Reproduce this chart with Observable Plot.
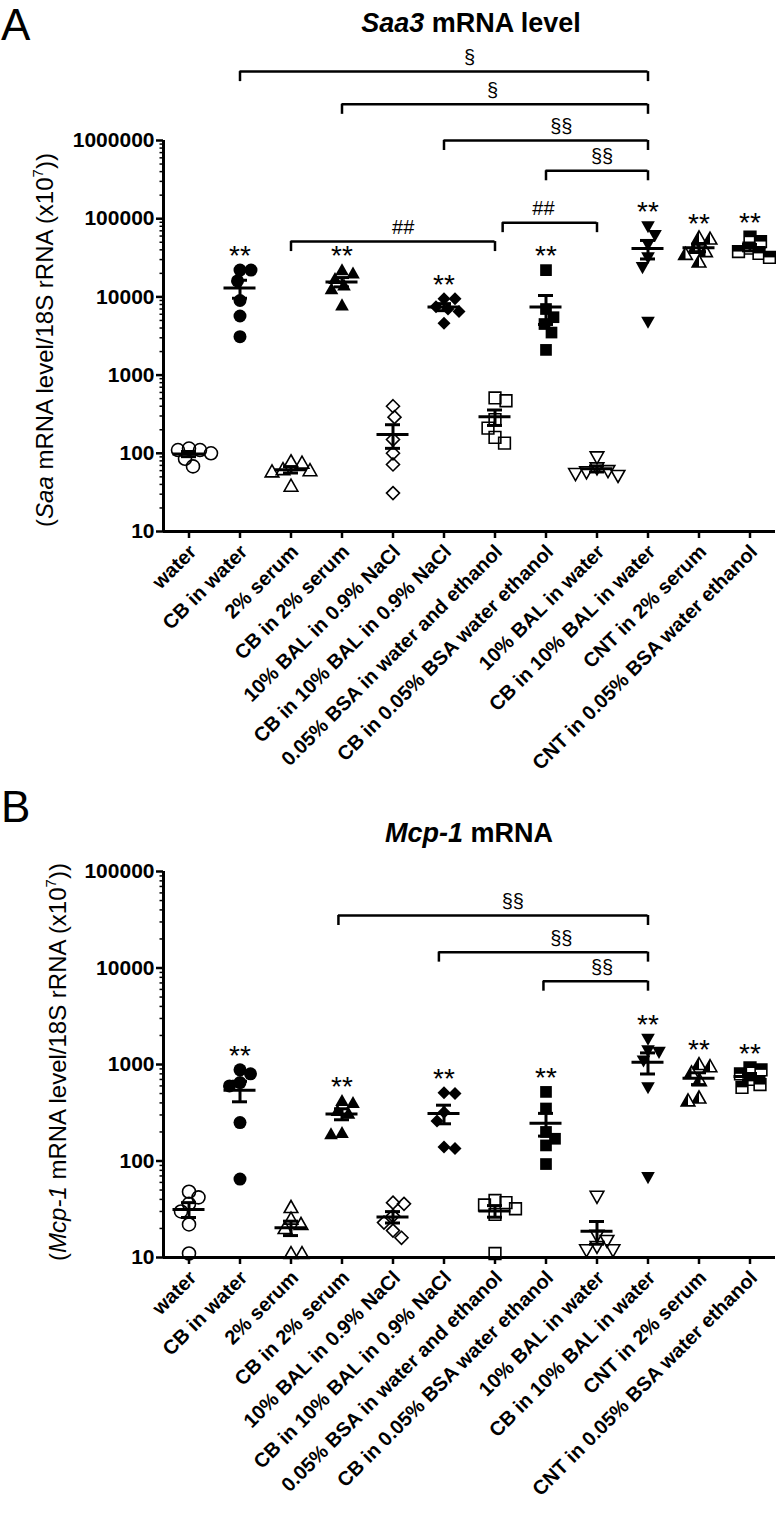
<!DOCTYPE html>
<html><head><meta charset="utf-8">
<script src="https://cdn.jsdelivr.net/npm/d3@7"></script>
<script src="https://cdn.jsdelivr.net/npm/@observablehq/plot@0.6"></script>
<style>
body{margin:0;background:#fff;}
#wrap{position:relative;width:776px;height:1514px;overflow:hidden;background:#fff;}
#wrap svg{position:absolute;left:0;overflow:visible;}
</style></head>
<body><div id="wrap"></div>
<script>
// ---------- data ----------
const categories = ["water","CB in water","2% serum","CB in 2% serum","10% BAL in 0.9% NaCl","CB in 10% BAL in 0.9% NaCl","0.05% BSA in water and ethanol","CB in 0.05% BSA water ethanol","10% BAL in water","CB in 10% BAL in water","CNT in 2% serum","CNT in 0.05% BSA water ethanol"];

const saa3 = [
  [110,115,110,100,85,68],
  [22000,22000,16000,9000,5700,3100],
  [75,78,62,58,60,38],
  [22000,20000,17000,14000,12500,7800],
  [400,290,150,100,72,31],
  [9500,9500,7500,7000,6500,4600],
  [510,470,270,210,160,135],
  [22000,7000,5500,4500,3500,2100],
  [90,65,60,58,55,52],
  [80000,62000,47000,32000,24000,4800],
  [57000,55000,42000,38000,35000,28000],
  [58000,51000,42000,38000,36000,32000]
];
const mcp1 = [
  [48,42,36,30,22,11],
  [880,800,650,600,250,65],
  [33,25,22,20,11,11],
  [420,400,330,310,195,190],
  [37,36,27,23,19,16],
  [510,500,320,260,140,135],
  [39,37,35,32,28,11],
  [520,350,200,170,145,93],
  [43,17,15,13,12,12],
  [1850,1400,1350,1100,580,68],
  [1000,950,820,680,450,420],
  [920,880,800,700,620,580]
];
const sigA = [1,3,5,7,9,10,11];
const sigB = [1,3,5,7,9,10,11];
const ticksA = [10,100,1000,10000,100000,1000000];
const ticksB = [10,100,1000,10000,100000];
const bracketsA = [
  {from:1, to:9, y:7.6e6, label:"§", at:5.5},
  {from:3, to:9, y:2.9e6, label:"§", at:5.95},
  {from:5, to:9, y:1.0e6, label:"§§", at:7.3},
  {from:7, to:9, y:4.1e5, label:"§§", at:8.1},
  {from:2, to:6, y:5.1e4, label:"##", at:4.2},
  {from:6.15, to:8, y:8.9e4, label:"##", at:6.95}
];
const bracketsB = [
  {from:2.93, to:9, y:3.5e4, label:"§§", at:6.35},
  {from:4.9, to:9, y:1.46e4, label:"§§", at:7.3},
  {from:6.95, to:9, y:7.3e3, label:"§§", at:8.1}
];

// ---------- symbols ----------
const R = 6.5;
const mk = f => ({draw(ctx, size){ f(ctx, Math.sqrt(size/Math.PI)); }});
const circ = mk((c,r)=>{c.moveTo(r,0);c.arc(0,0,r,0,2*Math.PI);});
const sq = mk((c,r)=>{const s=r*0.9;c.rect(-s,-s,2*s,2*s);});
const sqTop = mk((c,r)=>{const s=r*0.9;c.rect(-s,-s,2*s,s);});
const dia = mk((c,r)=>{const h=r*1.0;c.moveTo(0,-h);c.lineTo(h,0);c.lineTo(0,h);c.lineTo(-h,0);c.closePath();});
const triUp = mk((c,r)=>{const a=r*1.05,t=r*1.85;c.moveTo(0,-0.58*t);c.lineTo(a,0.42*t);c.lineTo(-a,0.42*t);c.closePath();});
const triDn = mk((c,r)=>{const a=r*1.05,t=r*1.85;c.moveTo(0,0.58*t);c.lineTo(a,-0.42*t);c.lineTo(-a,-0.42*t);c.closePath();});
const triHalf = mk((c,r)=>{const a=r*1.05,t=r*1.85;c.moveTo(0,-0.58*t);c.lineTo(-a,0.42*t);c.lineTo(0,0.42*t);c.closePath();});
const styles = [
  {s:circ, fill:"none"},{s:circ, fill:"black"},
  {s:triUp, fill:"none"},{s:triUp, fill:"black"},
  {s:dia, fill:"none"},{s:dia, fill:"black"},
  {s:sq, fill:"none"},{s:sq, fill:"black"},
  {s:triDn, fill:"none"},{s:triDn, fill:"black"},
  {s:triUp, fill:"white", half:triHalf},{s:sq, fill:"white", half:sqTop}
];

const FONT = "'Liberation Sans', Arial, Helvetica, sans-serif";

function beeswarm(vals, pxPerDecade, bandPx, minDist){
  const items = vals.map(v => ({v, yp: -Math.log10(v)*pxPerDecade, xp: 0}));
  const order = items.slice().sort((a,b)=>a.yp-b.yp);
  const placed = [];
  let flip = 1;
  for (const it of order){
    let found = null;
    for (let d=0; d<=80 && found===null; d+=0.5){
      for (const s of (d===0?[1]:[flip,-flip])){
        const xp = s*d;
        if (placed.every(p => Math.hypot(p.xp-xp, p.yp-it.yp) >= minDist)){ found = xp; break; }
      }
    }
    it.xp = found ?? 0;
    if (it.xp !== 0) flip = -Math.sign(it.xp);
    placed.push(it);
  }
  return items;
}

function panel(cfg){
  const {values, height, marginTop, marginBottom, domain, ticks, brackets, sig} = cfg;
  const marginLeft = 163, marginRight = 1, width = 776;
  const innerH = height - marginTop - marginBottom;
  const pxPerDecade = innerH / Math.log10(domain[1]/domain[0]);
  const bandPx = (width - marginLeft - marginRight) / categories.length;
  const pts = [];
  const stats = [];
  values.forEach((vals,i)=>{
    beeswarm(vals, pxPerDecade, bandPx, 11).forEach(it => pts.push({i, v: it.v, x: i + it.xp/bandPx}));
    const m = d3.mean(vals), se = d3.deviation(vals)/Math.sqrt(vals.length);
    stats.push({i, mean: m, lo: m-se, hi: m+se, max: d3.max(vals)});
  });
  const minors = [];
  for (let e = Math.log10(domain[0]); e < Math.log10(domain[1]); e++)
    for (let k=2;k<=9;k++) minors.push(k*Math.pow(10,e));
  const leg = Math.pow(10, 10/pxPerDecade);
  const dotMarks = [];
  styles.forEach((st,i)=>{
    const sub = pts.filter(p=>p.i===i);
    const filled = st.fill === "black";
    dotMarks.push(Plot.dot(sub, {x:"x", y:"v", symbol: st.s, r: R, fill: st.fill, stroke: filled ? "none" : "black", strokeWidth: 1.6}));
    if (st.half) dotMarks.push(Plot.dot(sub, {x:"x", y:"v", symbol: st.half, r: R, fill:"black", stroke:"none"}));
  });
  const hw = 16/bandPx, cw = 7.5/bandPx;
  return Plot.plot({
    width, height, marginLeft, marginRight, marginTop, marginBottom,
    style: {fontFamily: FONT, fontSize: "21px", color: "black", background: "transparent", overflow: "visible"},
    x: {type: "linear", domain: [-0.5, categories.length - 0.5]},
    y: {type: "log", domain},
    marks: [
      Plot.axisY({ticks: minors, tickSize: 3.5, tickFormat: () => "", strokeWidth: 1.5, label: null}),
      Plot.axisY({ticks, tickSize: 7, tickPadding: 2, tickFormat: d3.format("d"), fontSize: 21, fontWeight: "bold", strokeWidth: 2.5, label: null}),
      Plot.axisX({ticks: d3.range(categories.length), tickSize: 7, tickFormat: () => "", strokeWidth: 2.5, label: null}),
      Plot.text(categories, {x: (d,i)=>i, frameAnchor: "bottom", text: d=>d, rotate: -45, textAnchor: "end", lineAnchor: "middle", dx: 4, dy: 17, fontSize: 20, fontWeight: "bold"}),
      Plot.ruleX([-0.5], {y1: domain[0], y2: domain[1], strokeWidth: 3}),
      Plot.ruleY([domain[0]], {strokeWidth: 3}),
      ...dotMarks,
      Plot.ruleY(stats, {y: "mean", x1: d=>d.i-hw, x2: d=>d.i+hw, strokeWidth: 3}),
      Plot.ruleX(stats, {x: "i", y1: "lo", y2: "hi", strokeWidth: 3}),
      Plot.ruleY(stats, {y: "hi", x1: d=>d.i-cw, x2: d=>d.i+cw, strokeWidth: 3}),
      Plot.ruleY(stats, {y: "lo", x1: d=>d.i-cw, x2: d=>d.i+cw, strokeWidth: 3}),
      Plot.text(stats.filter(d=>sig.includes(d.i)), {x: "i", y: "max", text: () => "**", dy: -14, fontSize: 28, lineAnchor: "middle"}),
      Plot.ruleY(brackets, {y: "y", x1: "from", x2: "to", strokeWidth: 2.5}),
      Plot.ruleX(brackets, {x: "from", y1: "y", y2: d=>d.y/leg, strokeWidth: 2.5}),
      Plot.ruleX(brackets, {x: "to", y1: "y", y2: d=>d.y/leg, strokeWidth: 2.5}),
      Plot.text(brackets, {x: "at", y: "y", text: "label", dy: -14, fontSize: 20, lineAnchor: "middle"})
    ]
  });
}

function decorate(svg, o){
  const s = d3.select(svg);
  s.append("text").attr("x", 1).attr("y", o.letterY).attr("text-anchor","start").attr("font-family", FONT).attr("font-size", 44).attr("fill","black").text(o.letter);
  const t = s.append("text").attr("x", o.titleX).attr("y", o.titleY).attr("text-anchor","middle")
    .attr("font-family", FONT).attr("font-size", 27).attr("font-weight","bold").attr("fill","black");
  t.append("tspan").attr("font-style","italic").text(o.titleItalic);
  t.append("tspan").text(o.titleRest);
  const y = s.append("text").attr("transform", `translate(${o.labX},${o.labY}) rotate(-90)`)
    .attr("text-anchor","middle").attr("font-family", FONT).attr("font-size", 24).attr("fill","black");
  y.append("tspan").text("(");
  y.append("tspan").attr("font-style","italic").text(o.labItalic);
  y.append("tspan").text(" mRNA level/18S rRNA (x10");
  y.append("tspan").attr("font-size", 15).attr("dy", -10).text("7");
  y.append("tspan").attr("dy", 10).text("))");
}

const wrap = document.getElementById("wrap");
const A = panel({values: saa3, height: 760, marginTop: 140, marginBottom: 229, domain: [10, 1e6], ticks: ticksA, brackets: bracketsA, sig: sigA});
A.style.top = "0px";
decorate(A, {letter:"A", letterY:40, titleX:471, titleY:32, titleItalic:"Saa3", titleRest:" mRNA level", labX:53, labY:340, labItalic:"Saa"});
wrap.appendChild(A);
const B = panel({values: mcp1, height: 754, marginTop: 111, marginBottom: 257, domain: [10, 1e5], ticks: ticksB, brackets: bracketsB, sig: sigB});
B.style.top = "760px";
decorate(B, {letter:"B", letterY:62, titleX:469, titleY:82, titleItalic:"Mcp-1", titleRest:" mRNA", labX:66, labY:302, labItalic:"Mcp-1"});
wrap.appendChild(B);
</script>
</body></html>
